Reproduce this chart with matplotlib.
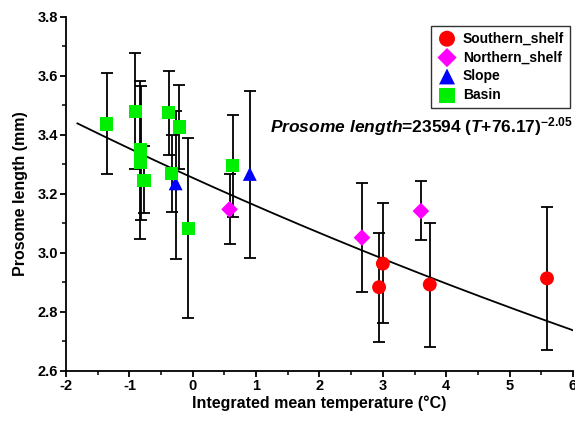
import matplotlib
matplotlib.use("Agg")
import matplotlib.pyplot as plt
import numpy as np
from matplotlib.ticker import MultipleLocator, FormatStrFormatter

plt.rcParams['font.family'] = ['Liberation Sans', 'DejaVu Sans']
plt.rcParams['font.weight'] = 'bold'
plt.rcParams['axes.unicode_minus'] = False
plt.rcParams['mathtext.fontset'] = 'custom'
plt.rcParams['mathtext.rm'] = 'Liberation Sans:bold'
plt.rcParams['mathtext.it'] = 'Liberation Sans:bold:italic'
plt.rcParams['mathtext.bf'] = 'Liberation Sans:bold'

# Data: temperature, prosome length, error lower, error upper
south_T = [2.94, 3.00, 3.74, 5.59]
south_L = [2.884, 2.964, 2.893, 2.914]
south_lo = [2.698, 2.764, 2.680, 2.672]
south_hi = [3.069, 3.171, 3.103, 3.156]

north_T = [0.58, 2.67, 3.60]
north_L = [3.148, 3.052, 3.142]
north_lo = [3.032, 2.867, 3.044]
north_hi = [3.267, 3.236, 3.244]

slope_T = [-0.27, 0.90]
slope_L = [3.236, 3.268]
slope_lo = [2.981, 2.984]
slope_hi = [3.482, 3.549]

basin_T = [-1.36, -0.907, -0.83, -0.82, -0.77, -0.38, -0.33, -0.21, -0.07, 0.63]
basin_L = [3.437, 3.480, 3.349, 3.306, 3.247, 3.476, 3.269, 3.427, 3.082, 3.297]
basin_lo = [3.268, 3.284, 3.046, 3.112, 3.135, 3.332, 3.138, 3.284, 2.779, 3.123]
basin_hi = [3.611, 3.677, 3.584, 3.566, 3.364, 3.617, 3.401, 3.569, 3.391, 3.468]

# Fitted curve (as drawn)
fit_a, fit_b, fit_c = 63530.0, 76.17, -2.28
fit_range = (-1.82, 6.0)

fig = plt.figure(figsize=(5.75, 4.21), dpi=100)
ax = fig.add_axes([0.1148, 0.1188, 0.8817, 0.8409])

groups = [
    ("Southern_shelf", south_T, south_L, south_lo, south_hi, 'o', '#ff0000', 10),
    ("Northern_shelf", north_T, north_L, north_lo, north_hi, 'D', '#ff00ff', 8.5),
    ("Slope", slope_T, slope_L, slope_lo, slope_hi, '^', '#0000ff', 10),
    ("Basin", basin_T, basin_L, basin_lo, basin_hi, 's', '#00ee00', 9.5),
]

handles = []
for name, T, L, lo, hi, m, c, ms in groups:
    T = np.array(T); L = np.array(L)
    yerr = np.vstack([L - np.array(lo), np.array(hi) - L])
    ax.errorbar(T, L, yerr=yerr, fmt='none', ecolor='black', elinewidth=1.3,
                capsize=4, capthick=1.3, zorder=2)
    h = ax.scatter(T, L, marker=m, s=ms**2, color=c, edgecolors='none', zorder=3,
                   label=name)
    handles.append(h)

xf = np.linspace(fit_range[0], fit_range[1], 200)
ax.plot(xf, fit_a * (xf + fit_b) ** fit_c, color='black', lw=1.3, zorder=2.5)

ax.set_xlim(-2, 6)
ax.set_ylim(2.6, 3.8)
ax.xaxis.set_major_locator(MultipleLocator(1))
ax.xaxis.set_minor_locator(MultipleLocator(0.5))
ax.yaxis.set_major_locator(MultipleLocator(0.2))
ax.yaxis.set_minor_locator(MultipleLocator(0.1))
ax.yaxis.set_major_formatter(FormatStrFormatter('%.1f'))
ax.spines['top'].set_visible(False)
ax.spines['right'].set_visible(False)
for s in ['left', 'bottom']:
    ax.spines[s].set_linewidth(1.3)
ax.tick_params(which='major', direction='out', length=4, width=1.3, labelsize=10.5, pad=1.5)
ax.tick_params(which='minor', direction='out', length=3, width=1.1)
for lab in ax.get_xticklabels() + ax.get_yticklabels():
    lab.set_fontweight('bold')

ax.set_xlabel("Integrated mean temperature (°C)", fontsize=11.5, fontweight='bold', labelpad=2)
ax.set_ylabel("Prosome length (mm)", fontsize=11.5, fontweight='bold', labelpad=7)

leg = ax.legend(handles=handles, loc='upper left', bbox_to_anchor=(0.72, 0.975),
                fontsize=10, frameon=True, fancybox=False, edgecolor='black',
                handletextpad=0.4, borderpad=0.4, labelspacing=0.35,
                handlelength=1.5, scatterpoints=1, borderaxespad=0,
                markerscale=1.15)
leg.get_frame().set_linewidth(1.0)
for t in leg.get_texts():
    t.set_fontweight('bold')

ax.text(1.0, 0.69, r"$\mathit{Prosome\ length}$=23594 ($\mathit{T}$+76.17)$^{-2.05}$",
        transform=ax.transAxes, ha='right', va='center', fontsize=12.5,
        fontweight='bold')

fig.savefig("out.png", dpi=100)
